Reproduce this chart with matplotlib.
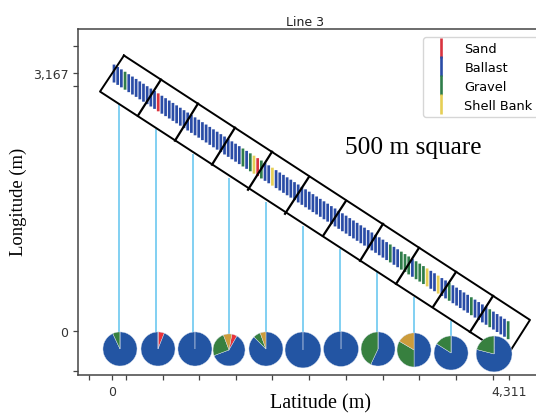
import matplotlib
matplotlib.use("Agg")
import matplotlib.pyplot as plt
from matplotlib.lines import Line2D

# survey track, one bar per sample (m)
track_x = [22, 62, 102, 142, 182, 222, 262, 302, 342, 382,
           422, 462, 502, 542, 582, 622, 662, 702, 742, 782,
           822, 862, 902, 942, 982, 1022, 1062, 1102, 1142, 1182,
           1222, 1262, 1302, 1342, 1382, 1422, 1462, 1502, 1542, 1582,
           1622, 1662, 1702, 1742, 1782, 1822, 1862, 1902, 1942, 1982,
           2022, 2062, 2102, 2142, 2182, 2222, 2262, 2302, 2342, 2382,
           2422, 2462, 2502, 2542, 2582, 2622, 2662, 2702, 2742, 2782,
           2822, 2862, 2902, 2942, 2982, 3022, 3062, 3102, 3142, 3182,
           3222, 3262, 3302, 3342, 3382, 3422, 3462, 3502, 3542, 3582,
           3622, 3662, 3702, 3742, 3782, 3822, 3862, 3902, 3942, 3982,
           4022, 4062, 4102, 4142, 4182, 4222, 4262, 4302]
track_y = [3155, 3126, 3096, 3067, 3037, 3008, 2979, 2949, 2920, 2890,
           2861, 2832, 2802, 2773, 2743, 2714, 2685, 2655, 2626, 2596,
           2567, 2538, 2508, 2479, 2449, 2420, 2391, 2361, 2332, 2302,
           2273, 2244, 2214, 2185, 2155, 2126, 2097, 2067, 2038, 2008,
           1979, 1950, 1920, 1891, 1861, 1832, 1803, 1773, 1744, 1714,
           1685, 1656, 1626, 1597, 1567, 1538, 1509, 1479, 1450, 1420,
           1391, 1362, 1332, 1303, 1273, 1244, 1215, 1185, 1156, 1126,
           1097, 1068, 1038, 1009, 979, 950, 921, 891, 862, 832,
           803, 774, 744, 715, 685, 656, 627, 597, 568, 538,
           509, 480, 450, 421, 391, 362, 333, 303, 274, 244,
           215, 186, 156, 127, 97, 68, 39, 9]
sediment = list("BBBGBBBBBB" "BBSBBBBBBB" "BBBBBBBBBB" "BBBBBGBGYS"
                "GBBYBBBBBB" "BBBBBBBBBB" "BBBBBBBBBB" "BBBBBGBBGG"
                "GBGGGYBBYB" "BGBBBBBGBB" "BBGBBBBG")
bar_half = 110

names = {"S": "Sand", "B": "Ballast", "G": "Gravel", "Y": "Shell Bank"}
bar_col = {"S": "#d9343f", "B": "#2a4ca6", "G": "#2f7d4a", "Y": "#e6cf55"}
pie_col = {"S": "#e8323a", "B": "#2355a3", "G": "#37803f", "Y": "#cc9c3c"}

# 500 m squares
box_x = [130, 4539, 4290, -130, 130]
box_y = [3376, 135, -307, 2934, 3376]
div_top_x = [532, 934, 1336, 1738, 2140, 2541, 2943, 3334, 3736, 4138]
div_top_y = [3081, 2787, 2492, 2197, 1890, 1595, 1313, 1019, 724, 430]
div_bot_x = [282, 684, 1086, 1477, 1879, 2292, 2694, 3085, 3486, 3888]
div_bot_y = [2639, 2332, 2038, 1731, 1436, 1166, 859, 577, 295, -12]

# pies below the squares
pie_x = [87, 500, 901, 1271, 1672, 2074, 2487, 2889, 3280, 3682, 4149]
pie_y = [-221, -221, -221, -233, -221, -233, -221, -221, -233, -270, -282]
pie_r = [185, 185, 185, 174, 185, 195, 190, 185, 185, 185, 195]
pie_start = [0, 0, 0, 10, 0, 0, 0, 0, 0, 0, 0]
pie_sand = [0, 6, 0, 5.5, 0, 0, 0, 0, 0, 0, 0]
pie_ballast = [93, 94, 100, 61, 87.5, 100, 100, 57, 50, 84, 79]
pie_gravel = [7, 0, 0, 25, 7, 0, 0, 43, 33.5, 16, 21]
pie_shell = [0, 0, 0, 8.5, 5.5, 0, 0, 0, 16.5, 0, 0]

lead_x = [76, 478, 880, 1271, 1672, 2074, 2476, 2878, 3280, 3682]
lead_top = [2786, 2480, 2173, 1878, 1583, 1289, 1007, 724, 417, 123]
lead_bot = [-221, -221, -221, -233, -221, -233, -221, -221, -233, -270]

minor_x = [-250, 152, 549, 945, 1347, 1743, 2140, 2541, 2943, 3334, 3736, 4138]
minor_y = [3498, 3007, -491]

fig = plt.figure(figsize=(5.36, 4.14), dpi=100)
ax = fig.add_axes([78 / 536, 1 - 376 / 414, 467 / 536, 346 / 414])
ax.set_xlim(-369, 4702)
ax.set_ylim(-540, 3701)

ax.vlines(lead_x, lead_bot, lead_top, color="#6cc8f0", lw=1.2, zorder=1)
bars = ax.vlines(track_x, [y - bar_half for y in track_y], [y + bar_half for y in track_y],
                 colors=[bar_col[s] for s in sediment], lw=1.95, capstyle="butt", zorder=2)
bars.set_snap(False)

ax.plot(box_x, box_y, color="black", lw=1.4, zorder=3)
for i in range(len(div_top_x)):
    ax.plot([div_top_x[i], div_bot_x[i]], [div_top_y[i], div_bot_y[i]], color="black", lw=1.6, zorder=3)

for i in range(len(pie_x)):
    rx = pie_r[i] * 1.25
    ry = rx * 12.275 / 10.86
    ia = ax.inset_axes([pie_x[i] - rx, pie_y[i] - ry, 2 * rx, 2 * ry], transform=ax.transData, zorder=4)
    vals = [pie_sand[i], pie_ballast[i], pie_gravel[i], pie_shell[i]]
    ia.pie(vals, colors=[pie_col[k] for k in "SBGY"], startangle=90 - pie_start[i], counterclock=False,
           wedgeprops=dict(edgecolor="#d8e0ee", linewidth=0.3))
    ia.set_xlim(-1.25, 1.25)
    ia.set_ylim(-1.25, 1.25)

ax.set_xticks([0, 4311])
ax.set_xticklabels(["0", "4,311"])
ax.set_yticks([0, 3167])
ax.set_yticklabels(["0", "3,167"])
ax.set_xticks(minor_x, minor=True)
ax.set_yticks(minor_y, minor=True)
ax.tick_params(which="both", length=3.5, width=0.9, color="#444444", labelsize=9, labelcolor="#333333")
for side in ["left", "bottom", "top"]:
    ax.spines[side].set_color("#444444")
    ax.spines[side].set_linewidth(1.1)
ax.spines["right"].set_visible(False)

ax.set_title("Line 3", x=0.486, fontsize=9, pad=3, color="#222222")
fig.text(320 / 536, 1 - 404 / 414, "Latitude (m)", family="Liberation Serif", fontsize=14.5,
         ha="center", va="center")
fig.text(18 / 536, 1 - 202 / 414, "Longitude (m)", family="Liberation Serif", fontsize=13.4,
         rotation=90, ha="center", va="center")
fig.text(413 / 536, 1 - 148 / 414, "500 m square", family="Liberation Serif", fontsize=18.3,
         ha="center", va="center")

handles = [Line2D([], [], linestyle="none", marker="|", markersize=14.4, markeredgewidth=1.9,
                  color=bar_col[k], label=names[k]) for k in "SBGY"]
ax.legend(handles=handles, loc="upper left", bbox_to_anchor=(423 / 536, 1 - 38 / 414),
          bbox_transform=fig.transFigure, borderaxespad=0, fontsize=9.3, labelspacing=0.45)

fig.savefig("out.png", dpi=100)
